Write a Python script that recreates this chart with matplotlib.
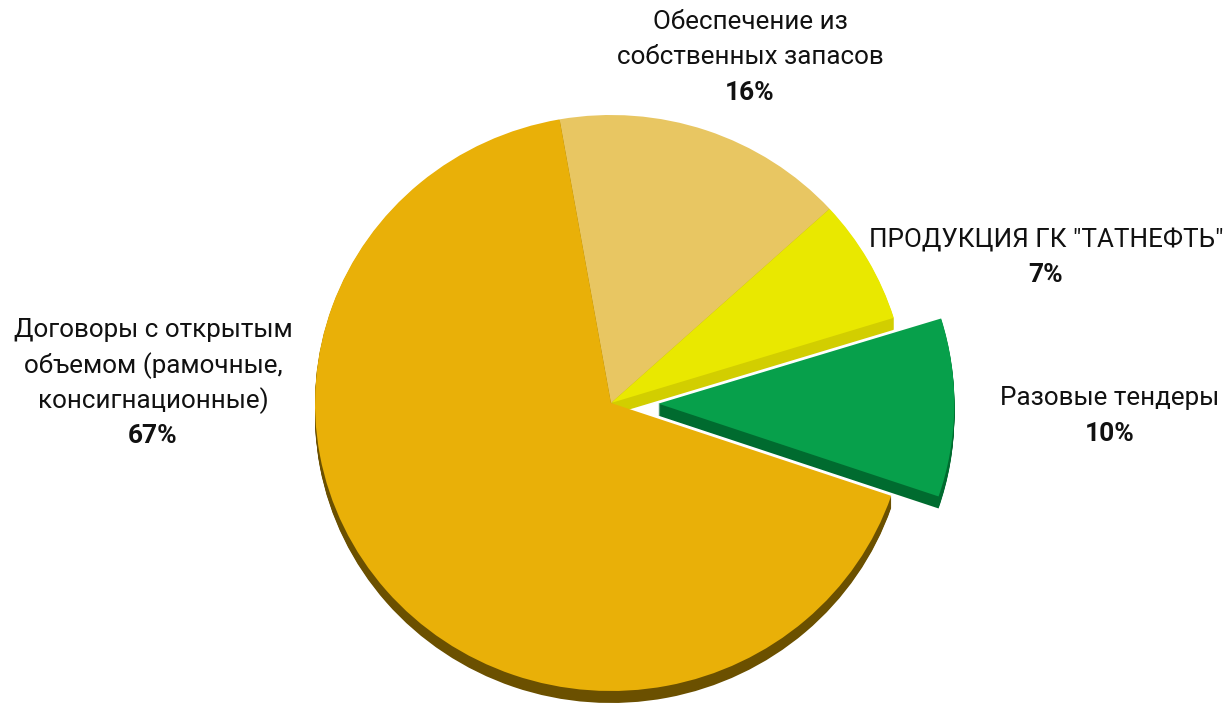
import numpy as np
import matplotlib.pyplot as plt

plt.rcParams['font.family'] = ['Roboto', 'DejaVu Sans']

# Данные (по часовой стрелке от верха)
labels = ['Обеспечение из\nсобственных запасов',
          'ПРОДУКЦИЯ ГК "ТАТНЕФТЬ"',
          'Разовые тендеры',
          'Договоры с открытым\nобъемом (рамочные,\nконсигнационные)']
values = [16, 7, 10, 67]
explode = [0, 0, 0.16, 0]

colors = ['#E8C662', '#E9E800', '#07A04B', '#E9B008']
dark = ['#B89A40', '#D2CE00', '#006B2F', '#6B5000']

W, H = 1226, 705
cx, cy = 611, 403
rx, ry = 296, 288
depth = 12

fig = plt.figure(figsize=(W / 100, H / 100), dpi=100)
ax = fig.add_axes([0, 0, 1, 1])

# "объём" - тёмная подложка, сдвинутая вниз
for k in range(depth, 0, -1):
    ax.pie(values, explode=explode, colors=dark, startangle=100,
           counterclock=False, center=(0, -k / ry),
           wedgeprops=dict(linewidth=0))
ax.pie(values, explode=explode, colors=colors, startangle=100,
       counterclock=False, wedgeprops=dict(linewidth=0))

ax.set_aspect('auto')
ax.set_xlim(-cx / rx, (W - cx) / rx)
ax.set_ylim(-(H - cy) / ry, cy / ry)
ax.axis('off')

# подписи: центр и y верхней строки в пикселях сверху
label_pos = [(750, 22), (1046, 240), (1110, 398), (153, 330)]
line_h = 35.5
for name, v, (x, y) in zip(labels, values, label_pos):
    lines = name.split('\n')
    for i, line in enumerate(lines):
        fig.text(x / W, 1 - (y + i * line_h) / H, line, ha='center',
                 va='center', fontsize=18.7, color='#111111')
    fig.text(x / W, 1 - (y + len(lines) * line_h) / H, f'{v}%',
             ha='center', va='center', fontsize=19, fontweight='bold',
             color='#111111')

fig.savefig('out.png', dpi=100)
